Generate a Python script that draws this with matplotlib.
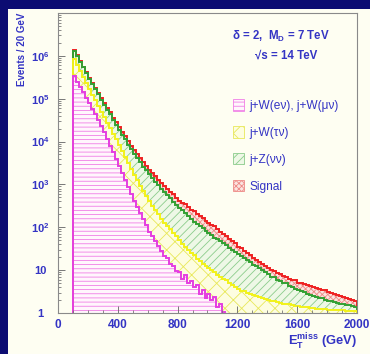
import numpy as np
import matplotlib
matplotlib.use("Agg")
import matplotlib.pyplot as plt
from matplotlib.patches import Patch, Rectangle
from matplotlib.ticker import FixedLocator, FixedFormatter, MultipleLocator

# missing-ET bins, 20 GeV wide, 100 -> 2000 GeV
edges = np.arange(100, 2001, 20)

# stacked event counts: each array is the running sum up to that process
stack_wlnu = [3.4e5, 2.5e5, 1.9e5, 1.41e5, 1.05e5, 7.9e4, 5.9e4, 4.3e4, 3.2e4, 2.3e4,
              1.66e4, 1.15e4, 7.9e3, 5.6e3, 3.9e3, 2.7e3, 1.86e3, 1.29e3, 890, 600,
              420, 300, 215, 155, 112, 79, 63, 47, 37, 28,
              21, 19, 14, 12.6, 9.5, 8.9, 6.3, 7.6, 5.0, 5.6,
              4.0, 4.6, 2.8, 3.5, 2.2, 2.8, 2.0, 2.4, 1.4, 1.6,
              1.05, 0.8, 0.6, 0.7, 0.5, 0.4, 0.5, 0.3, 0.4, 0.3,
              0.2, 0.3, 0.2, 0.2, 0.1, 0.2, 0.1, 0.1, 0.1, 0.1,
              0.1, 0.05, 0.05, 0.05, 0.05, 0.05, 0.05, 0.05, 0.05, 0.05,
              0.05, 0.05, 0.05, 0.05, 0.05, 0.05, 0.05, 0.05, 0.05, 0.05,
              0.05, 0.05, 0.05, 0.05, 0.05]
stack_wtau = [8.3e5, 6.0e5, 4.4e5, 3.2e5, 2.3e5, 1.66e5, 1.23e5, 9.1e4, 6.8e4, 5.0e4,
              3.7e4, 2.75e4, 2.04e4, 1.51e4, 1.12e4, 8.3e3, 6.0e3, 4.4e3, 3.2e3, 2.3e3,
              1.66e3, 1.26e3, 930, 710, 525, 400, 316, 250, 200, 158,
              126, 105, 89, 72, 62, 50, 41, 35, 30, 25,
              22, 18.6, 16.2, 13.8, 12.6, 11.0, 10.0, 9.0, 7.8, 6.9,
              6.2, 5.8, 5.0, 4.5, 4.0, 3.6, 3.3, 3.2, 2.95, 2.75,
              2.57, 2.45, 2.34, 2.24, 2.09, 2.0, 1.91, 1.86, 1.78, 1.74,
              1.66, 1.62, 1.58, 1.51, 1.48, 1.45, 1.41, 1.38, 1.35, 1.32,
              1.29, 1.26, 1.26, 1.23, 1.23, 1.20, 1.20, 1.17, 1.17, 1.15,
              1.15, 1.12, 1.12, 1.10, 1.10]
stack_znn = [1.32e6, 9.8e5, 7.2e5, 5.4e5, 4.0e5, 2.95e5, 2.24e5, 1.70e5, 1.26e5, 9.5e4,
             7.2e4, 5.6e4, 4.3e4, 3.2e4, 2.5e4, 1.9e4, 1.45e4, 1.12e4, 8.5e3, 6.6e3,
             5.0e3, 4.1e3, 3.3e3, 2.6e3, 2.14e3, 1.74e3, 1.45e3, 1.17e3, 980, 790,
             660, 560, 470, 390, 330, 280, 250, 210, 182, 160,
             135, 120, 107, 96, 83, 74, 66, 57, 52, 47,
             42, 38, 33, 29.5, 26.3, 23.4, 20.9, 19.5, 17.0, 15.1,
             13.5, 12.3, 11.5, 10.0, 8.9, 8.1, 7.0, 6.8, 6.0, 5.5,
             5.0, 4.9, 4.3, 4.0, 3.6, 3.4, 3.2, 3.1, 2.8, 2.6,
             2.45, 2.34, 2.24, 2.2, 2.04, 1.95, 1.86, 1.82, 1.74, 1.66,
             1.62, 1.55, 1.51, 1.45, 1.41]
stack_signal = [1.38e6, 1.02e6, 7.6e5, 5.6e5, 4.2e5, 3.1e5, 2.34e5, 1.78e5, 1.38e5, 1.05e5,
                7.9e4, 6.2e4, 4.8e4, 3.6e4, 2.8e4, 2.2e4, 1.7e4, 1.32e4, 1.02e4, 7.9e3,
                6.2e3, 5.0e3, 4.1e3, 3.3e3, 2.7e3, 2.2e3, 1.82e3, 1.55e3, 1.29e3, 1.10e3,
                910, 780, 680, 600, 490, 420, 370, 345, 290, 257,
                236, 204, 182, 162, 140, 129, 115, 106, 89, 79,
                71, 64, 54, 47, 42.5, 35, 32, 27.5, 24.5, 22.5,
                19.1, 17.0, 15.1, 13.8, 12.8, 11.0, 10.0, 9.3, 8.5, 8.3,
                7.2, 6.8, 6.3, 5.9, 5.8, 5.1, 4.9, 4.7, 4.6, 4.2,
                4.0, 3.8, 3.6, 3.4, 3.4, 3.1, 2.95, 2.8, 2.7, 2.5,
                2.4, 2.24, 2.09, 2.0, 1.86]

labels = ["j+W(eν), j+W(μν)", "j+W(τν)", "j+Z(νν)", "Signal"]
y_ticks = [1, 10, 1e2, 1e3, 1e4, 1e5, 1e6]
y_ticklabels = ["1", "10", "$10^{2}$", "$10^{3}$", "$10^{4}$", "$10^{5}$", "$10^{6}$"]

plt.rcParams["font.family"] = ["Liberation Sans", "DejaVu Sans"]
plt.rcParams["mathtext.default"] = "regular"
plt.rcParams["hatch.linewidth"] = 0.6

navy = "#0c0c72"
cream = "#fefef2"
blue = "#3434c4"

fig = plt.figure(figsize=(3.7, 3.54), dpi=100, facecolor=navy)
fig.add_artist(Rectangle((8 / 370, 0), 1, 345 / 354, transform=fig.transFigure,
                         facecolor=cream, edgecolor="none", zorder=-5))
ax = fig.add_axes([58 / 370, 41 / 354, 299 / 370, 300 / 354], facecolor=cream)

# fill style, hatch colour, face colour, outline colour per process
styles = [("----", "#f07ee6", "#fff6fc", "#e43ee0"),
          ("xx", "#e8e85a", "#fdfde0", "#f2f21a"),
          ("////", "#8ccc8c", "#eef8e6", "#33a033"),
          ("xxxxxx", "#ee8a86", "#fbe4e0", "#ee2222")]
stacks = [stack_wlnu, stack_wtau, stack_znn, stack_signal]

prev = np.full(len(edges) - 1, 0.01)
for vals, (hatch, hcol, face, lcol) in zip(stacks, styles):
    vals = np.array(vals)
    ax.stairs(vals, edges, baseline=prev, fill=True, facecolor=face,
              edgecolor=hcol, hatch=hatch, linewidth=0)
    prev = vals
# outlines from the top of the stack down, so the lower ones sit on top
for vals, (hatch, hcol, face, lcol) in list(zip(stacks, styles))[::-1]:
    ax.stairs(vals, edges, baseline=0.01, color=lcol, linewidth=1.4)

ax.set_yscale("log")
ax.set_xlim(0, 2000)
ax.set_ylim(1, 1e7)
ax.yaxis.set_major_locator(FixedLocator(y_ticks))
ax.yaxis.set_major_formatter(FixedFormatter(y_ticklabels))
ax.xaxis.set_major_locator(MultipleLocator(400))
ax.xaxis.set_minor_locator(MultipleLocator(100))

for sp in ax.spines.values():
    sp.set_color("#8a8a8a")
    sp.set_linewidth(0.8)
ax.tick_params(which="both", direction="in", color="#777777", top=False, right=False)
ax.tick_params(which="major", length=5, width=0.7)
ax.tick_params(which="minor", length=2.5, width=0.6)
ax.tick_params(axis="x", pad=4, labelsize=8.5, labelcolor=blue)
ax.tick_params(axis="y", pad=13, labelsize=8, labelcolor=blue)
for t in ax.yaxis.get_major_ticks():
    t.label1.set_horizontalalignment("center")
    t.label1.set_fontweight("bold")
for t in ax.xaxis.get_major_ticks():
    t.label1.set_fontweight("bold")

ax.set_ylabel("Events / 20 GeV", loc="top", color=blue, fontsize=7, fontweight="bold")
ax.yaxis.set_label_coords(-0.105, 1.0)
ax.set_xlabel("$E_{T}^{miss}$ (GeV)", loc="right", color=blue, fontsize=9.3, fontweight="bold")
ax.xaxis.set_label_coords(1.0, -0.062)

ax.text(0.746, 0.923, "δ = 2,  M$_{D}$ = 7 TeV", transform=ax.transAxes, ha="center",
        va="center", color=blue, fontsize=8.3, fontweight="bold")
ax.text(0.763, 0.857, "√s = 14 TeV", transform=ax.transAxes, ha="center",
        va="center", color=blue, fontsize=8.3, fontweight="bold")

handles = [Patch(facecolor=face, edgecolor=hcol, hatch=hatch, linewidth=0.6)
           for hatch, hcol, face, lcol in styles]
ax.legend(handles, labels, loc="upper left", bbox_to_anchor=(0.585, 0.712),
          frameon=False, fontsize=8.6, labelcolor=blue, handlelength=0.95,
          handleheight=1.1, handletextpad=0.45, labelspacing=1.17,
          borderpad=0, borderaxespad=0)

fig.savefig("out.png", dpi=100, facecolor=navy)
